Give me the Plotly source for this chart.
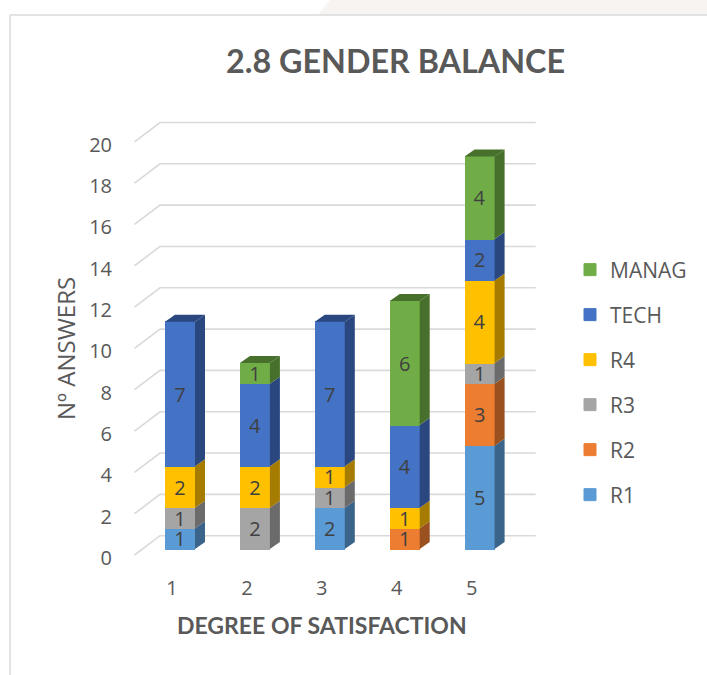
import plotly.graph_objects as go

categories = [1, 2, 3, 4, 5]
R1 = [1, None, 2, None, 5]
R2 = [None, None, None, 1, 3]
R3 = [1, 2, 1, None, 1]
R4 = [2, 2, 1, 1, 4]
TECH = [7, 4, 7, 4, 2]
MANAG = [None, 1, None, 6, 4]
y_ticks = list(range(0, 21, 2))

series = [
    ("R1", R1, "#5B9BD5", "#3A6489"),
    ("R2", R2, "#ED7D31", "#9A511F"),
    ("R3", R3, "#A5A5A5", "#6B6B6B"),
    ("R4", R4, "#FFC000", "#A67C00"),
    ("TECH", TECH, "#4472C4", "#2A4780"),
    ("MANAG", MANAG, "#70AD47", "#48702D"),
]

W, H = 707, 675
L, R_, T, B = 122, 540, 110, 565
PX_X = 74.9      # pixels per category
PX_Y = 20.66     # pixels per answer
X1_PX = 180
BAR_PX = 29
FRONT0 = 555     # pixel of 0 on the labelled front edge
BAR0 = 549       # pixel of 0 on the bar plane

x_range = [1 + (L - X1_PX) / PX_X, 1 + (R_ - X1_PX) / PX_X]
y_range = [(FRONT0 - B) / PX_Y, (FRONT0 - T) / PX_Y]
y2_range = [(BAR0 - B) / PX_Y, (BAR0 - T) / PX_Y]

fig = go.Figure()

# floor-to-wall gridlines
gx0 = 1 + (134.5 - X1_PX) / PX_X
gx1 = 1 + (160 - X1_PX) / PX_X
gx2 = 1 + (535.7 - X1_PX) / PX_X
gdy = 19.3 / PX_Y
gxs, gys = [], []
for v in y_ticks:
    gxs += [gx0, gx1, gx2, None]
    gys += [v, v + gdy, v + gdy, None]
fig.add_trace(go.Scatter(x=gxs, y=gys, mode="lines", showlegend=False, hoverinfo="skip",
                         line=dict(color="#D9D9D9", width=1.6)))

# stacked front faces
half = 15 / PX_X
ddx = 10 / PX_X
ddy = 7 / PX_Y
for rank, (name, vals, col, dark) in enumerate(series):
    fig.add_trace(go.Bar(
        x=categories, y=vals, name=name, yaxis="y2", legendgroup=name,
        legendrank=100 - rank,
        width=BAR_PX / PX_X,
        marker=dict(color=col, line=dict(color=col, width=1)),
        text=vals, textposition="inside", insidetextanchor="middle", textangle=0,
        constraintext="none",
        textfont=dict(family="Open Sans", size=20, color="#404040"),
    ))

# side and top faces derived from the stack
base = [0] * len(categories)
tops = [(0, None)] * len(categories)
for name, vals, col, dark in series:
    xs, ys = [], []
    for i, c in enumerate(categories):
        v = vals[i]
        if not v:
            continue
        y0, y1 = base[i], base[i] + v
        xr = c + half
        xs += [xr, xr + ddx, xr + ddx, xr, xr, None]
        ys += [y0, y0 + ddy, y1 + ddy, y1, y0, None]
        base[i] = y1
        tops[i] = (y1, dark)
    fig.add_trace(go.Scatter(x=xs, y=ys, yaxis="y2", mode="lines", fill="toself", fillcolor=dark,
                             line=dict(width=0), showlegend=False, hoverinfo="skip"))
for i, c in enumerate(categories):
    t, dark = tops[i]
    xl, xr = c - half, c + half
    fig.add_trace(go.Scatter(x=[xl, xl + ddx, xr + ddx, xr, xl], y=[t, t + ddy, t + ddy, t, t], yaxis="y2",
                             mode="lines", fill="toself", fillcolor=dark, line=dict(width=0),
                             showlegend=False, hoverinfo="skip"))


def pxx(p):
    return (p - L) / (R_ - L)


def pxy(p):
    return 1 - (p - T) / (B - T)


fig.update_layout(
    width=W, height=H, autosize=False,
    margin=dict(l=L, r=W - R_, t=T, b=H - B),
    paper_bgcolor="white", plot_bgcolor="white",
    barmode="stack",
    font=dict(family="Open Sans", color="#595959", size=20),
    title=dict(text="<b>2.8 GENDER BALANCE</b>", x=395.5 / W, xanchor="center", y=1 - 62 / H, yanchor="middle",
               font=dict(family="Lato", size=32.3, color="#595959")),
    xaxis=dict(range=x_range, tickmode="array", tickvals=categories, ticktext=[str(c) for c in categories],
               showgrid=False, zeroline=False, showline=False, ticks="outside", ticklen=5, tickcolor="rgba(0,0,0,0)",
               ticklabelshift=-8,
               tickfont=dict(family="Open Sans", size=20, color="#595959")),
    yaxis=dict(range=y_range, tickmode="array", tickvals=y_ticks, showgrid=False, zeroline=False, showline=False,
               ticks="outside", ticklen=5, tickcolor="rgba(0,0,0,0)", ticklabelshift=3,
               tickfont=dict(family="Open Sans", size=20, color="#595959")),
    yaxis2=dict(range=y2_range, overlaying="y", visible=False),
    legend=dict(x=pxx(570), xanchor="left", y=pxy(249.5), yanchor="top", traceorder="grouped",
                tracegroupgap=14.7, font=dict(family="Open Sans", size=21, color="#595959"),
                bgcolor="rgba(0,0,0,0)"),
    annotations=[
        dict(text="<b>DEGREE OF SATISFACTION</b>", xref="paper", yref="paper", x=pxx(322), y=pxy(625),
             xanchor="center", yanchor="middle", showarrow=False,
             font=dict(family="Lato", size=23, color="#595959")),
        dict(text="Nº ANSWERS", xref="paper", yref="paper", x=pxx(65), y=pxy(349), textangle=-90,
             xanchor="center", yanchor="middle", showarrow=False,
             font=dict(family="Open Sans", size=24, color="#595959")),
    ],
    shapes=[
        dict(type="path", xref="paper", yref="paper", layer="below", line=dict(width=0), fillcolor="#F8F4F1",
             path=f"M {pxx(318)} {pxy(15)} L {pxx(330)} {pxy(0)} L {pxx(707)} {pxy(0)} L {pxx(707)} {pxy(15)} Z"),
        dict(type="line", xref="paper", yref="paper", x0=pxx(10), x1=pxx(707), y0=pxy(15), y1=pxy(15),
             line=dict(color="#DADADA", width=1.5)),
        dict(type="line", xref="paper", yref="paper", x0=pxx(10), x1=pxx(10), y0=pxy(15), y1=pxy(675),
             line=dict(color="#DADADA", width=1.5)),
    ],
)

fig.write_html("out.html", config={"displayModeBar": False}, post_script="document.body.style.margin='0';")
